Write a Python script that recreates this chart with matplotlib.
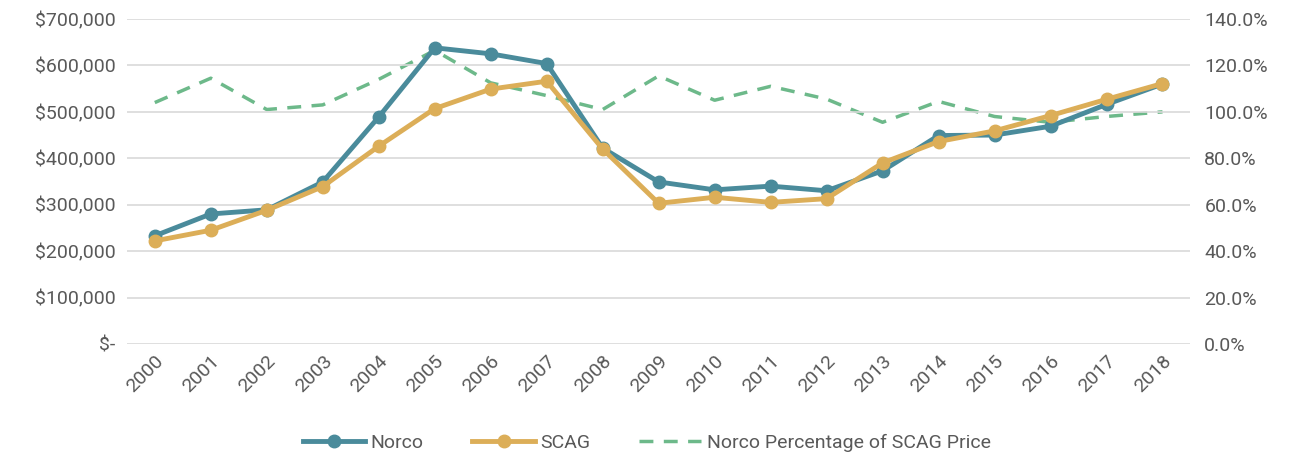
import numpy as np
import matplotlib.pyplot as plt
from matplotlib.ticker import FuncFormatter

plt.rcParams['font.family'] = ['Liberation Sans Narrow', 'Roboto', 'DejaVu Sans']

years = [str(y) for y in range(2000, 2019)]
norco = [233000, 280000, 289000, 349000, 489000, 638000, 625000, 604000, 422000, 349000,
         332000, 340000, 330000, 373000, 449000, 450000, 469000, 516000, 560000]
scag = [222000, 245000, 288000, 339000, 426000, 507000, 549000, 566000, 420000, 303000,
        316000, 305000, 313000, 390000, 436000, 459000, 492000, 527000, 561000]
pct = [104.0, 114.5, 101.0, 103.0, 114.0, 126.5, 112.5, 107.0, 101.0, 115.5,
       105.0, 111.0, 105.5, 95.5, 104.5, 98.0, 95.5, 98.0, 100.0]

c_norco = '#4a8b9b'
c_scag = '#dcae58'
c_pct = '#6db98a'
txt = '#595959'

fig = plt.figure(figsize=(12.94, 4.58), dpi=100)
ax = fig.add_axes([0.098, 0.249, 0.822, 0.7095])
ax2 = ax.twinx()

x = np.arange(len(years))
l1, = ax.plot(x, norco, color=c_norco, lw=3.5, marker='o', ms=9, label='Norco', zorder=3)
l2, = ax.plot(x, scag, color=c_scag, lw=3.5, marker='o', ms=9, label='SCAG', zorder=4)
l3, = ax2.plot(x, pct, color=c_pct, lw=2.5, ls=(0, (4, 3)), label='Norco Percentage of SCAG Price')

ax.set_zorder(ax2.get_zorder() + 1)
ax.patch.set_visible(False)

ax.set_xlim(-0.5, len(years) - 0.5)
ax.set_ylim(0, 700000)
ax2.set_ylim(0, 140)
ax.set_yticks(np.arange(0, 700001, 100000))
ax2.set_yticks(np.arange(0, 141, 20))
ax.yaxis.set_major_formatter(FuncFormatter(lambda v, p: '$-' if v == 0 else f'${v:,.0f}'))
ax2.yaxis.set_major_formatter(FuncFormatter(lambda v, p: f'{v:.1f}%'))
ax.set_xticks(x)
ax.set_xticklabels(years, rotation=45, ha='right', rotation_mode='anchor')

ax.grid(axis='y', color='#d9d9d9', lw=1.2)
ax.set_axisbelow(True)
for a in (ax, ax2):
    for s in a.spines.values():
        s.set_visible(False)
    a.tick_params(length=0, labelsize=14, labelcolor=txt)
ax.tick_params(axis='y', pad=8)
ax2.tick_params(axis='y', pad=10)
ax.tick_params(axis='x', pad=6)

fig.legend(handles=[l1, l2, l3], loc='center', bbox_to_anchor=(0.5, 0.033), ncol=3,
           frameon=False, fontsize=14, labelcolor=txt, handlelength=3.2, columnspacing=2.5,
           handletextpad=0.3)

fig.savefig('out.png', dpi=100)
